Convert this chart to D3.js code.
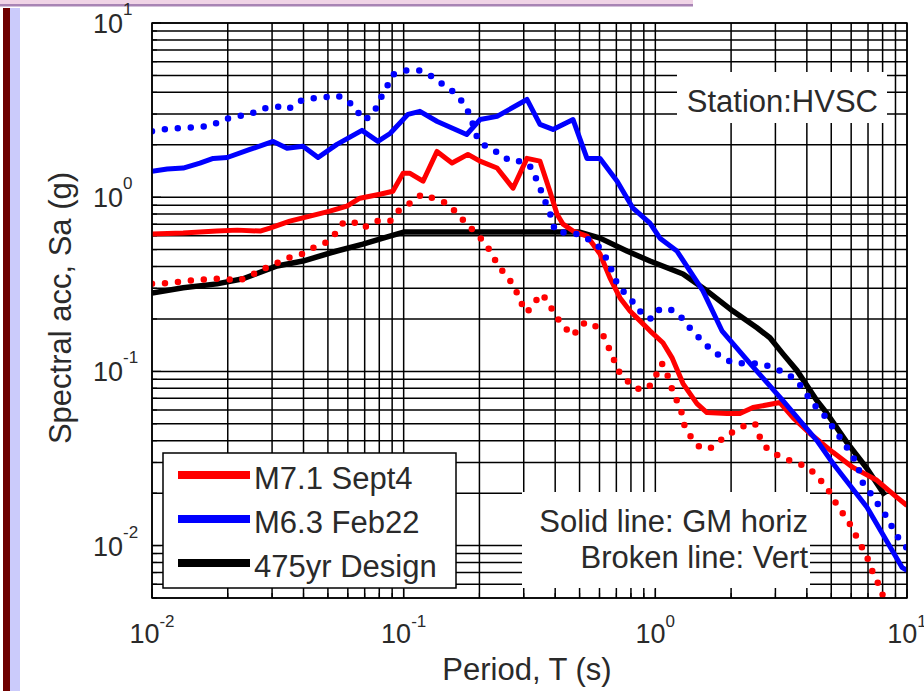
<!DOCTYPE html>
<html>
<head>
<meta charset="utf-8">
<script src="https://cdn.jsdelivr.net/npm/d3@7"></script>
<style>
  body { margin: 0; background: #fff; }
  svg { display: block; font-family: "Liberation Sans", Arial, sans-serif; }
</style>
</head>
<body>
<div class="grafico"></div>
<script>
/* Datos: [periodo T (s), Sa (g)] */
const sept4Horiz = [[0.01,0.614],[0.0133,0.622],[0.0181,0.639],[0.0218,0.647],[0.0269,0.639],[0.0294,0.665],
  [0.0353,0.729],[0.0424,0.778],[0.0509,0.831],[0.0595,0.888],[0.067,0.987],[0.0805,1.04],[0.0906,1.082],
  [0.0994,1.37],[0.106,1.37],[0.1194,1.235],[0.1356,1.83],[0.1556,1.57],[0.18,1.76],[0.201,1.61],[0.235,1.47],
  [0.272,1.126],[0.309,1.67],[0.348,1.61],[0.381,1.082],[0.407,0.799],[0.43,0.7],[0.471,0.639],[0.535,0.598],
  [0.603,0.472],[0.66,0.344],[0.724,0.264],[0.793,0.222],[0.869,0.195],[0.952,0.171],[1.072,0.146],[1.164,0.12],
  [1.288,0.0851],[1.463,0.0653],[1.603,0.058],[1.925,0.0573],[2.168,0.0573],[2.443,0.062],[3.126,0.0662],
  [3.524,0.0543],[4.113,0.044],[5.082,0.0343],[6.097,0.0281],[7.593,0.0237],[9.12,0.0189],[10,0.017]];

const sept4Vert = [[0.01,0.318],[0.0118,0.322],[0.0151,0.335],[0.0173,0.34],[0.0195,0.34],[0.022,0.331],
  [0.0245,0.353],[0.0276,0.387],[0.0308,0.413],[0.0347,0.448],[0.0394,0.472],[0.0436,0.511],[0.0487,0.545],
  [0.0533,0.614],[0.0574,0.71],[0.0623,0.729],[0.0689,0.665],[0.0783,0.729],[0.0883,0.729],[0.0949,0.831],
  [0.106,0.924],[0.1183,1.04],[0.1307,0.987],[0.1486,0.924],[0.1629,0.81],[0.1783,0.7],[0.1955,0.614],
  [0.2104,0.545],[0.2244,0.472],[0.2371,0.403],[0.2573,0.353],[0.2768,0.302],[0.2898,0.254],[0.309,0.217],
  [0.3266,0.244],[0.3548,0.279],[0.3813,0.238],[0.4066,0.203],[0.4375,0.178],[0.4708,0.16],[0.5108,0.188],
  [0.56,0.19],[0.6136,0.167],[0.6424,0.144],[0.6792,0.12],[0.711,0.101],[0.7711,0.0885],[0.845,0.0796],
  [0.9348,0.0796],[0.9962,0.0921],[1.062,0.111],[1.112,0.097],[1.164,0.0796],[1.218,0.0679],[1.276,0.0573],
  [1.311,0.0476],[1.398,0.0412],[1.504,0.0366],[1.648,0.0361],[1.806,0.0401],[2.015,0.0446],[2.27,0.0489],
  [2.489,0.0502],[2.606,0.0417],[2.775,0.0361],[3.07,0.0329],[3.428,0.0308],[3.855,0.0289],[4.306,0.026],
  [4.636,0.0228],[5.036,0.0194],[5.313,0.0166],[5.768,0.0143],[6.097,0.0123],[6.501,0.0103],[6.934,0.0086],
  [7.261,0.0072],[7.593,0.0063],[7.95,0.0053],[8.17,0.0049]];

const feb22Horiz = [[0.01,1.41],[0.0115,1.45],[0.0133,1.47],[0.0155,1.57],[0.0175,1.67],[0.0199,1.69],
  [0.0245,1.88],[0.0303,2.09],[0.0344,1.91],[0.0398,1.96],[0.0457,1.69],[0.0543,2.01],[0.0683,2.42],
  [0.079,2.09],[0.0883,2.32],[0.104,2.99],[0.116,3.11],[0.136,2.72],[0.178,2.29],[0.201,2.79],[0.235,2.91],
  [0.309,3.64],[0.348,2.62],[0.392,2.45],[0.471,2.79],[0.535,1.67],[0.603,1.67],[0.705,1.235],[0.815,0.865],
  [0.952,0.71],[1.043,0.582],[1.218,0.491],[1.546,0.29],[1.84,0.171],[2.377,0.111],[3.214,0.0679],
  [4.386,0.0401],[5.082,0.0296],[6.934,0.0166],[9.55,0.0075],[10,0.0072]];

const feb22Vert = [[0.01,2.39],[0.0118,2.48],[0.0151,2.52],[0.0173,2.58],[0.0191,2.79],[0.0218,2.91],
  [0.0245,2.99],[0.0276,3.23],[0.0314,3.32],[0.0347,3.19],[0.038,3.54],[0.0432,3.69],[0.0478,3.74],
  [0.0543,3.84],[0.0601,3.59],[0.0652,3.11],[0.0702,2.76],[0.0769,3.15],[0.0805,3.64],[0.0859,4.32],
  [0.0906,5.06],[0.101,5.33],[0.116,5.33],[0.1295,4.93],[0.143,4.44],[0.157,4.04],[0.171,3.54],[0.183,2.99],
  [0.197,2.15],[0.216,1.91],[0.241,1.79],[0.264,1.61],[0.295,1.61],[0.3235,1.47],[0.339,1.235],[0.355,1.054],
  [0.371,0.888],[0.388,0.758],[0.399,0.639],[0.446,0.622],[0.493,0.614],[0.56,0.56],[0.603,0.511],
  [0.648,0.43],[0.705,0.318],[0.771,0.271],[0.845,0.238],[0.893,0.208],[0.969,0.2],[1.043,0.229],
  [1.164,0.225],[1.288,0.2],[1.398,0.171],[1.504,0.154],[1.648,0.135],[1.84,0.12],[2.033,0.112],
  [2.377,0.111],[2.606,0.111],[2.933,0.105],[3.273,0.0984],[3.656,0.0885],[4.228,0.0653],[4.636,0.0573],
  [5.082,0.0476],[5.768,0.0366],[6.323,0.0296],[6.683,0.0228],[7.261,0.0194],[7.806,0.0166],[8.32,0.0146],
  [8.95,0.0119],[9.55,0.0103],[10,0.0097]];

const design475 = [[0.01,0.282],[0.0133,0.302],[0.0181,0.318],[0.023,0.34],[0.0314,0.403],[0.0398,0.43],
  [0.0543,0.491],[0.0689,0.538],[0.0828,0.582],[0.1,0.631],[0.5,0.631],[0.603,0.582],[0.771,0.491],
  [0.952,0.43],[1.288,0.362],[1.603,0.29],[2.033,0.222],[2.535,0.178],[2.853,0.156],[3.214,0.126],
  [3.656,0.101],[4.386,0.0679],[4.809,0.0573],[5.768,0.0391],[6.934,0.0277],[8.17,0.0194]];

const xTickExp = [-2, -1, 0, 1];
const yTickExp = [1, 0, -1, -2];
const legendNames = ['M7.1 Sept4', 'M6.3 Feb22', '475yr Design'];
const legendColors = ['#ff0000', '#0000ff', '#000000'];

const W = 924, H = 691;
const plot = { left: 152, right: 907, top: 23, bottom: 598 };

const svg = d3.select('.grafico').append('svg').attr('width', W).attr('height', H);

/* Marco de la diapositiva */
svg.append('rect').attr('x', 0).attr('y', 0).attr('width', 693).attr('height', 5).attr('fill', '#f0d4e6');
svg.append('rect').attr('x', 0).attr('y', 4).attr('width', 693).attr('height', 2.5).attr('fill', '#a884b4');
svg.append('rect').attr('x', 3).attr('y', 8).attr('width', 7).attr('height', H).attr('fill', '#6e0000');
svg.append('rect').attr('x', 10).attr('y', 8).attr('width', 10).attr('height', H).attr('fill', '#cbcbfb');

const x = d3.scaleLog().domain([0.01, 10]).range([plot.left, plot.right]);
const y = d3.scaleLog().domain([0.005, 10]).range([plot.bottom, plot.top]);

/* Grilla */
const grid = svg.append('g').attr('stroke', '#000').attr('stroke-width', 1.5);
grid.selectAll('.vx').data(x.ticks()).join('line')
  .attr('x1', d => x(d)).attr('x2', d => x(d)).attr('y1', plot.top).attr('y2', plot.bottom);
grid.selectAll('.hy').data(y.ticks()).join('line')
  .attr('x1', plot.left).attr('x2', plot.right).attr('y1', d => y(d)).attr('y2', d => y(d));

/* Cajas blancas de textos */
svg.append('rect').attr('x', 677).attr('y', 72).attr('width', 210).attr('height', 51).attr('fill', '#fff');
svg.append('rect').attr('x', 522).attr('y', 492).attr('width', 288).attr('height', 96).attr('fill', '#fff');

/* Ticks internos */
const tickG = svg.append('g').attr('stroke', '#000').attr('stroke-width', 1.2);
const isMajor = d => Math.abs(Math.log10(d) - Math.round(Math.log10(d))) < 1e-6;
tickG.selectAll('.tb').data(x.ticks()).join('line')
  .attr('x1', d => x(d)).attr('x2', d => x(d))
  .attr('y1', plot.bottom).attr('y2', d => plot.bottom - (isMajor(d) ? 9 : 5));
tickG.selectAll('.tl').data(y.ticks()).join('line')
  .attr('y1', d => y(d)).attr('y2', d => y(d))
  .attr('x1', plot.left).attr('x2', d => plot.left + (isMajor(d) ? 9 : 5));

/* Curvas */
svg.append('clipPath').attr('id', 'clip').append('rect')
  .attr('x', plot.left).attr('y', plot.top)
  .attr('width', plot.right - plot.left).attr('height', plot.bottom - plot.top);

const line = d3.line().x(d => x(d[0])).y(d => y(d[1]));
const curves = svg.append('g').attr('clip-path', 'url(#clip)').attr('fill', 'none');

const series = [
  { data: design475, color: '#000', width: 5.5, dotted: false },
  { data: sept4Vert, color: '#ff0000', width: 6.5, dotted: true },
  { data: sept4Horiz, color: '#ff0000', width: 5, dotted: false },
  { data: feb22Vert, color: '#0000ff', width: 6.5, dotted: true },
  { data: feb22Horiz, color: '#0000ff', width: 5, dotted: false }
];
series.forEach(s => {
  curves.append('path')
    .attr('d', line(s.data))
    .attr('stroke', s.color)
    .attr('stroke-width', s.width)
    .attr('stroke-linejoin', 'round')
    .attr('stroke-linecap', s.dotted ? 'round' : 'butt')
    .attr('stroke-dasharray', s.dotted ? '0 13' : null);
});

/* Marco del eje */
svg.append('rect').attr('x', plot.left).attr('y', plot.top)
  .attr('width', plot.right - plot.left).attr('height', plot.bottom - plot.top)
  .attr('fill', 'none').attr('stroke', '#000').attr('stroke-width', 1.5);

/* Etiquetas de ticks */
const txtColor = '#2a2a2a';
xTickExp.forEach(e => {
  const t = svg.append('text').attr('x', x(Math.pow(10, e))).attr('y', 643)
    .attr('text-anchor', 'middle').attr('font-size', 27).attr('fill', txtColor);
  t.append('tspan').text('10');
  t.append('tspan').attr('dy', -16).attr('font-size', 17).text(e);
});
yTickExp.forEach(e => {
  const t = svg.append('text').attr('x', 93).attr('y', y(Math.pow(10, e)) + 10)
    .attr('font-size', 27).attr('fill', txtColor);
  t.append('tspan').text('10');
  t.append('tspan').attr('dy', -18).attr('font-size', 17).text(e);
});

/* Titulos de ejes */
svg.append('text').attr('x', 527).attr('y', 680).attr('text-anchor', 'middle')
  .attr('font-size', 31).attr('fill', txtColor).text('Period, T (s)');
svg.append('text').attr('transform', 'translate(71,308) rotate(-90)').attr('text-anchor', 'middle')
  .attr('font-size', 31).attr('fill', txtColor).text('Spectral acc, Sa (g)');

/* Anotaciones */
svg.append('text').attr('x', 878).attr('y', 112).attr('text-anchor', 'end')
  .attr('font-size', 31).attr('fill', txtColor).text('Station:HVSC');
svg.append('text').attr('x', 808).attr('y', 532).attr('text-anchor', 'end')
  .attr('font-size', 31).attr('fill', txtColor).text('Solid line: GM horiz');
svg.append('text').attr('x', 808).attr('y', 568).attr('text-anchor', 'end')
  .attr('font-size', 31).attr('fill', txtColor).text('Broken line: Vert');

/* Leyenda */
const legend = svg.append('g').attr('transform', 'translate(163,453)');
legend.append('rect').attr('width', 293).attr('height', 135)
  .attr('fill', '#fff').attr('stroke', '#000').attr('stroke-width', 1.5);
const items = legend.selectAll('.item').data(legendNames).join('g')
  .attr('transform', (d, i) => `translate(0,${22 + i * 44})`);
items.append('line').attr('x1', 15).attr('x2', 87).attr('y1', 0).attr('y2', 0)
  .attr('stroke', (d, i) => legendColors[i]).attr('stroke-width', 8);
items.append('text').attr('x', 91).attr('y', 14).attr('font-size', 31)
  .attr('fill', txtColor).text(d => d);
</script>
</body>
</html>
